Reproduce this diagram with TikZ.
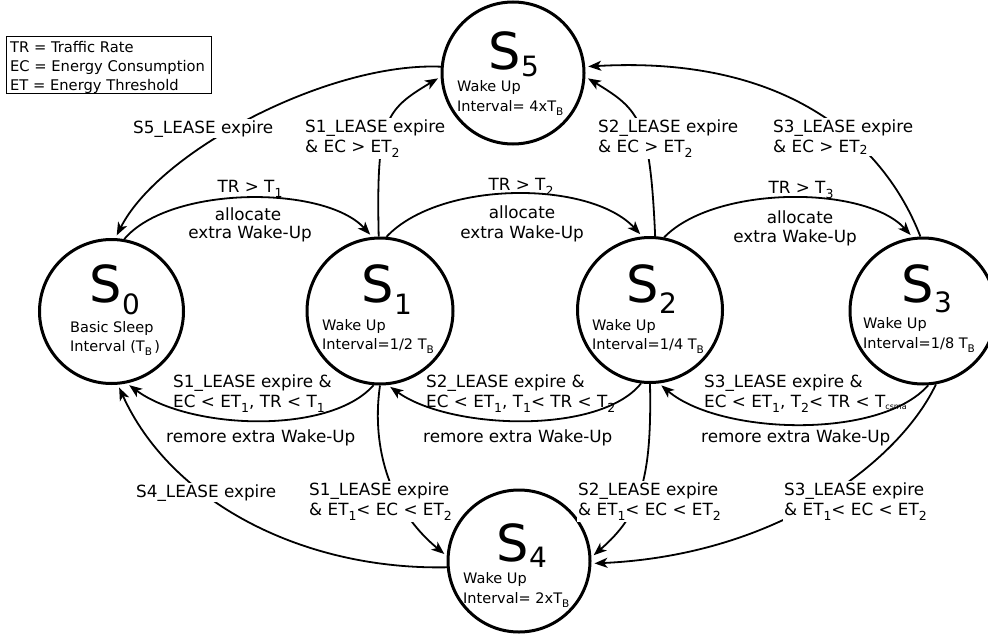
\documentclass[tikz,border=0pt]{standalone}
\usepackage{fontspec}
\setmainfont{DejaVu Sans}
\usetikzlibrary{arrows.meta}
\newcommand{\lsub}[1]{\raisebox{-5pt}{\fontsize{12.5}{12.5}\selectfont #1}}
\newcommand{\ssub}[1]{\raisebox{-4pt}{\fontsize{10.5}{10.5}\selectfont #1}}
\newcommand{\bigS}[2]{{\fontsize{51}{51}\selectfont S}\raisebox{-#2pt}{\fontsize{28}{28}\selectfont #1}}
\newcommand{\twolines}[2]{\vtop{\hbox{#1}\hbox{#2}}}
\begin{document}
\begin{tikzpicture}[x=1pt,y=-1pt,
  state/.style={circle,draw,line width=3pt,inner sep=0pt},
  edge/.style={line width=1.8pt,-{Stealth[length=13pt,width=10pt,inset=3.5pt]},shorten >=3pt},
  lbl/.style={font=\fontsize{16.8}{20.5}\selectfont,inner sep=1pt},
  wlbl/.style={lbl,fill=white},
  inner/.style={font=\fontsize{14.5}{17}\selectfont,inner sep=0pt,anchor=base west},
  bigs/.style={inner sep=0pt,anchor=base west},
  legend/.style={font=\fontsize{14.7}{19}\selectfont,inner sep=0pt,anchor=base west}
]
\useasboundingbox (0,0) rectangle (988,637);

% legend
\node[draw,line width=1.2pt,minimum width=205pt,minimum height=57pt,inner sep=0pt,anchor=north west] (legbox) at (6,36) {};
\node[legend] (leg1) at (10,52) {TR = Traffic Rate};
\node[legend] (leg2) at (10,71) {EC = Energy Consumption};
\node[legend] (leg3) at (10,90) {ET = Energy Threshold};

% states
\node[state,minimum size=144pt] (S0) at (111.5,311.5) {};
\node[state,minimum size=146pt] (S1) at (380,311) {};
\node[state,minimum size=145pt] (S2) at (650,310) {};
\node[state,minimum size=146pt] (S3) at (923,311) {};
\node[state,minimum size=142pt] (S4) at (519,561) {};
\node[state,minimum size=142pt] (S5) at (513,73) {};

\node[bigs] (S0t) at (89.6,302) {\bigS{0}{12}};
\node[bigs] (S1t) at (361.6,302) {\bigS{1}{12}};
\node[bigs] (S2t) at (626.6,302) {\bigS{2}{11}};
\node[bigs] (S3t) at (901.6,302) {\bigS{3}{10}};
\node[bigs] (S4t) at (496.6,561) {\bigS{4}{6}};
\node[bigs] (S5t) at (488.6,69) {\bigS{5}{7}};

\node[inner] (S0a) at (70,332) {Basic Sleep};
\node[inner] (S0b) at (70,351) {Interval (T\ssub{B}\,)};
\node[inner] (S1a) at (322,330) {Wake Up};
\node[inner] (S1b) at (322,349) {Interval=1/2 T\ssub{B}};
\node[inner] (S2a) at (592,330) {Wake Up};
\node[inner] (S2b) at (592,349) {Interval=1/4 T\ssub{B}};
\node[inner] (S3a) at (863,328) {Wake Up};
\node[inner] (S3b) at (863,348) {Interval=1/8 T\ssub{B}};
\node[inner] (S4a) at (463,583) {Wake Up};
\node[inner] (S4b) at (463,603) {Interval= 2xT\ssub{B}};
\node[inner] (S5a) at (457,91) {Wake Up};
\node[inner] (S5b) at (457,111) {Interval= 4xT\ssub{B}};

% edges
\draw[edge] (S5.175) .. controls (330,62) and (160,150) .. (S0.87);
\draw[edge] (S0.80) .. controls (170,185) and (325,185) .. (S1.96);
\draw[edge] (S1.85) .. controls (440,180) and (590,180) .. (S2.96);
\draw[edge] (S2.79) .. controls (715,185) and (865,185) .. (S3.98);
\draw[edge] (S1.91) .. controls (376,120) and (385,110) .. (S5.183);
\draw[edge] (S2.86) .. controls (650,120) and (640,110) .. (S5.-3);
\draw[edge] (S3.92) .. controls (885,145) and (790,55) .. (S5.5);
\draw[edge] (S1.265) .. controls (330,435) and (190,430) .. (S0.-78);
\draw[edge] (S2.-97) .. controls (600,435) and (450,430) .. (S1.-84);
\draw[edge] (S3.-86) .. controls (880,440) and (720,435) .. (S2.-83);
\draw[edge] (S4.-175) .. controls (300,570) and (170,500) .. (S0.-85);
\draw[edge] (S1.-90) .. controls (372,440) and (385,505) .. (S4.176);
\draw[edge] (S2.-90) .. controls (652,480) and (640,515) .. (S4.3);
\draw[edge] (S3.-80) .. controls (900,460) and (780,555) .. (S4.-2);

% top labels
\node[wlbl,anchor=base west] (Ls5) at (132,133) {S5\_LEASE expire};
\node[wlbl,anchor=base west] (Ls1u) at (304,132) {\twolines{S1\_LEASE expire}{\& EC > ET\lsub{2}}};
\node[wlbl,anchor=base west] (Ls2u) at (597,132) {\twolines{S2\_LEASE expire}{\& EC > ET\lsub{2}}};
\node[wlbl,anchor=base west] (Ls3u) at (772,132) {\twolines{S3\_LEASE expire}{\& EC > ET\raisebox{-2pt}{\fontsize{12.5}{12.5}\selectfont 2}}};

\node[lbl,anchor=base] (Lt1a) at (250,192) {TR > T\lsub{1}};
\node[lbl,anchor=base] (Lt1b) at (248,220) {allocate};
\node[lbl,anchor=base] (Lt1c) at (250,238) {extra Wake-Up};
\node[lbl,anchor=base] (Lt2a) at (521,190) {TR > T\lsub{2}};
\node[lbl,anchor=base] (Lt2b) at (522,218) {allocate};
\node[lbl,anchor=base] (Lt2c) at (522,238) {extra Wake-Up};
\node[lbl,anchor=base] (Lt3a) at (801,193) {TR > T\lsub{3}};
\node[lbl,anchor=base] (Lt3b) at (800,223) {allocate};
\node[lbl,anchor=base] (Lt3c) at (795,242) {extra Wake-Up};

% bottom arc labels
\node[lbl,anchor=base west] (Lb1) at (172,387) {\twolines{S1\_LEASE expire \&}{EC < ET\lsub{1}, TR < T\lsub{1}}};
\node[lbl,anchor=base west] (Lb1r) at (165,442) {remore extra Wake-Up};
\node[lbl,anchor=base west] (Lb2) at (425,387) {\twolines{S2\_LEASE expire \&}{EC < ET\lsub{1}, T\lsub{1}< TR < T\lsub{2}}};
\node[lbl,anchor=base west] (Lb2r) at (422,442) {remore extra Wake-Up};
\node[lbl,anchor=base west] (Lb3) at (703,387) {\twolines{S3\_LEASE expire \&}{EC < ET\lsub{1}, T\lsub{2}< TR < T\raisebox{-2pt}{\fontsize{8}{8}\selectfont csma}}};
\node[lbl,anchor=base west] (Lb3r) at (700,442) {remore extra Wake-Up};

% lower labels
\node[wlbl,anchor=base west] (Ls4) at (135,497) {S4\_LEASE expire};
\node[wlbl,anchor=base west] (Ll1) at (308,495) {\twolines{S1\_LEASE expire}{\& ET\lsub{1}< EC < ET\lsub{2}}};
\node[wlbl,anchor=base west] (Ll2) at (577,495) {\twolines{S2\_LEASE expire}{\& ET\lsub{1}< EC < ET\lsub{2}}};
\node[wlbl,anchor=base west] (Ll3) at (783,495) {\twolines{S3\_LEASE expire}{\& ET\lsub{1}< EC < ET\lsub{2}}};
\end{tikzpicture}
\end{document}
